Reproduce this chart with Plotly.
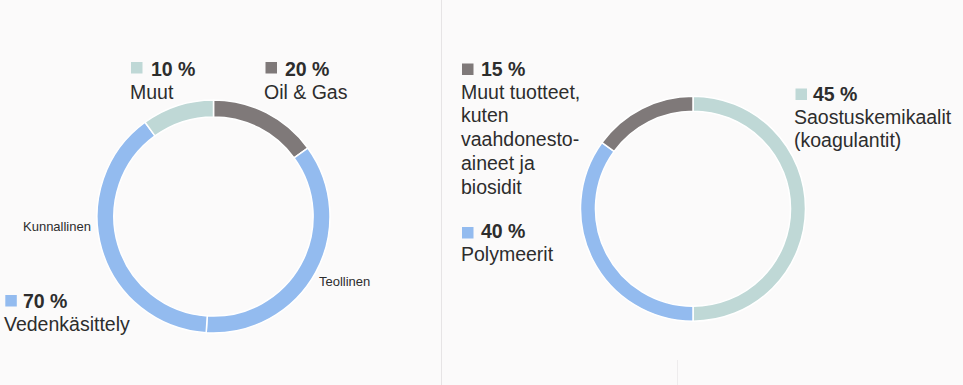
import plotly.graph_objects as go

W, H = 963, 385

# ---- data ----
left_labels = ["Oil & Gas", "Teollinen", "Kunnallinen", "Muut"]
left_values = [15, 36, 39, 10]
left_colors = ["#7f7979", "#93bbef", "#93bbef", "#bfd8d6"]

right_labels = ["Saostuskemikaalit (koagulantit)", "Polymeerit", "Muut tuotteet"]
right_values = [50, 35, 15]
right_colors = ["#bfd8d6", "#93bbef", "#7f7979"]

left_pct_text = ["20 %", "10 %", "70 %"]
left_name_text = ["Oil & Gas", "Muut", "Vedenkäsittely"]
left_inner_labels = ["Kunnallinen", "Teollinen"]

right_pct_text = ["15 %", "40 %", "45 %"]
right_name_lines = [
    ["Muut tuotteet,", "kuten", "vaahdonesto-", "aineet ja", "biosidit"],
    ["Polymeerit"],
    ["Saostuskemikaalit", "(koagulantit)"],
]

FONT = "Liberation Sans, Arial, sans-serif"
TXT = "#2d2d2d"
BG = "#fbfafa"


def dom(cx, cy, r):
    return dict(x=[(cx - r) / W, (cx + r) / W],
                y=[1 - (cy + r) / H, 1 - (cy - r) / H])


fig = go.Figure()
fig.add_trace(go.Pie(
    labels=left_labels, values=left_values, sort=False, direction="clockwise",
    rotation=0, hole=0.855, textinfo="none", showlegend=False,
    marker=dict(colors=left_colors, line=dict(color="white", width=1.5)),
    domain=dom(213.5, 216.5, 116.5),
))
fig.add_trace(go.Pie(
    labels=right_labels, values=right_values, sort=False, direction="clockwise",
    rotation=0, hole=0.867, textinfo="none", showlegend=False,
    marker=dict(colors=right_colors, line=dict(color="white", width=1.5)),
    domain=dom(693, 208.7, 112.5),
))

annotations = []
shapes = []


def text(x, baseline, s, size=20, bold=False):
    yc = baseline - 0.346 * size
    annotations.append(dict(
        x=(x - 2) / W, y=1 - yc / H, xref="paper", yref="paper",
        xanchor="left", yanchor="middle", showarrow=False,
        text=f"<b>{s}</b>" if bold else s,
        font=dict(family=FONT, size=size, color=TXT)))


def square(x0, y0, size, color):
    shapes.append(dict(type="rect", xref="paper", yref="paper",
                       x0=x0 / W, x1=(x0 + size) / W,
                       y0=1 - (y0 + size) / H, y1=1 - y0 / H,
                       fillcolor=color, line=dict(width=0)))


# left chart labels
square(265.5, 62, 11.5, left_colors[0])
text(285, 75.5, left_pct_text[0], 19.5, True)
text(264, 98.5, left_name_text[0], 19.5)

square(131, 62, 11.5, left_colors[3])
text(151, 75.5, left_pct_text[1], 19.5, True)
text(130, 98.5, left_name_text[1], 19.5)

square(5.3, 295, 11.5, left_colors[1])
text(23.3, 307.5, left_pct_text[2], 19.5, True)
text(4, 330.5, left_name_text[2], 19.5)

text(23, 226 + 0.35 * 13, left_inner_labels[0], 13)
text(319, 281 + 0.35 * 13, left_inner_labels[1], 13)

# right chart labels
square(462, 63.5, 11.5, right_colors[2])
text(480.7, 75.5, right_pct_text[0], 19.5, True)
for i, line in enumerate(right_name_lines[0]):
    text(460.7, 98.5 + i * 23.7, line, 19.5)

square(462, 227, 11.5, right_colors[1])
text(480.7, 237.5, right_pct_text[1], 19.5, True)
text(460.7, 260.5, right_name_lines[1][0], 19.5)

square(795.5, 88.5, 11.5, right_colors[0])
text(813.3, 100.5, right_pct_text[2], 19.5, True)
for i, line in enumerate(right_name_lines[2]):
    text(794, 123.5 + i * 23.7, line, 19.5)

# dividers
shapes.append(dict(type="line", xref="paper", yref="paper",
                   x0=441.5 / W, x1=441.5 / W, y0=0, y1=1,
                   line=dict(color="#e6e4e5", width=1)))
shapes.append(dict(type="line", xref="paper", yref="paper",
                   x0=677.5 / W, x1=677.5 / W, y0=0, y1=1 - 360 / H,
                   line=dict(color="#eeeced", width=1)))

fig.update_layout(
    width=W, height=H, margin=dict(l=0, r=0, t=0, b=0),
    paper_bgcolor=BG, plot_bgcolor=BG,
    annotations=annotations, shapes=shapes,
    font=dict(family=FONT, color=TXT),
)

fig.write_html(
    "out.html",
    config={"displayModeBar": False},
    post_script="document.body.style.margin='0';document.body.style.overflow='hidden';",
)
